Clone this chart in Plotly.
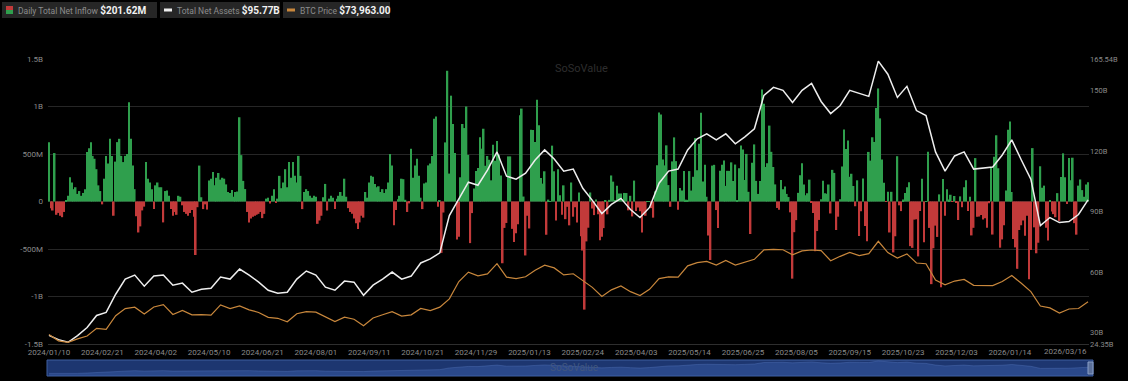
import pandas as pd
import plotly.graph_objects as go

# ---------------- data ----------------
start_date = "2024-01-10"
end_date = "2026-03-16"
market_holidays = ["2024-01-15", "2024-02-19", "2024-03-29", "2024-05-27", "2024-06-19",
                   "2024-07-04", "2024-09-02", "2024-11-28", "2024-12-25", "2025-01-01",
                   "2025-01-09", "2025-01-20", "2025-02-17", "2025-04-18", "2025-05-26",
                   "2025-06-19", "2025-07-04", "2025-09-01", "2025-11-27", "2025-12-25",
                   "2026-01-01", "2026-01-19", "2026-02-16"]
bday = pd.offsets.CustomBusinessDay(holidays=market_holidays)
dates = [d.strftime("%Y/%m/%d") for d in pd.date_range(start_date, end_date, freq=bday)]

# Daily total net inflow, million USD (one per trading day)
inflow_2024 = [
    625, -70, -95, 510, -140, -120, -150, -165, -110, 10,
    60, 255, 200, 130, 150, 80, 110, 60, 90, 130,
    520, 560, 625, 480, 450, 340, 170, 110, -30, 240,
    480, 400, 660, 480, -150, 420, 625, 660, 480, 415,
    480, 500, 1045, 660, 380, 130, -155, -326, -262, -94,
    -54, 415, 240, 200, 130, -80, 170, 200, 150, 150,
    -220, 110, 115, 60, -80, -150, -110, -140, 60, 50,
    -40, -110, -130, -150, -120, -90, -160, -563, -60, 378,
    45, -80, -30, -85, 220, 240, 310, 170, 250, 300,
    230, 250, 240, 180, 100, 90, 120, 50, 100, 105,
    887, 488, 217, 131, -110, -220, -180, -160, -150, -140,
    -130, -110, -175, -130, 30, 40, -20, 60, 130, -10,
    30, 270, 140, 200, 340, 150, 415, 250, 415, 270,
    200, 480, 270, -80, 100, 130, 110, 60, 40, 60,
    50, -235, -200, -150, 45, 185, -95, 30, 60, 40,
    -80, 30, 60, 100, 60, 240, 50, -70, -110, -130,
    -180, -230, -290, -220, -150, -170, 100, 40, 200, 270,
    260, 185, 150, 160, 100, 130, 90, 130, 200, 500,
    380, -250, -90, 25, 60, 240, 235, 18, -110, -20,
    555, 250, 380, 450, 270, 40, -80, 190, 200, 380,
    400, 480, 870, 894, -54, 10, -541, -116, 622, 1376,
    294, 1114, 817, 510, -400, -370, 255, 816, 773, 1000,
    490, -438, -122, 137, 320, 353, 676, 556, 766, 376,
    479, 439, 223, 598, 428, 637, 493, 275, -650, -278,
    -226, 475, 475, -288, -426, -333,
]
inflow_2025 = [
    -240, 908, 978, 52, -568, -150, -284, 755, 753, 626,
    1070, 802, 248, 188, 318, -350, 20, 2, 588, 318,
    -200, 340, 66, -140, 170, -186, -56, -251, 200, -160,
    -60, -220, 94, -365, -516, -1138, -420, -276, 95, -74,
    -143, 22, -134, -409, -371, -280, 13, -135, 17, 274,
    209, 11, 165, 84, 84, 27, 90, 89, -93, 60,
    -157, 220, -100, -64, -103, -326, -127, -150, 1, 1,
    -70, -170, 107, 381, 936, 917, 442, 380, 591, 173,
    -56, 422, 675, 425, -86, 142, 117, 321, 20, 17,
    320, 115, 260, 667, 329, 607, 934, 211, 386, 50,
    -358, -616, 378, 386, -90, -278, 323, 387, 431, 164,
    323, 322, 412, 216, 389, 6, 350, 589, 548, 226,
    501, 102, -342, 408, 601, 217, 80, 216, 1180, 1030,
    363, 403, 799, 523, 363, 180, -68, -86, 226, 130,
    157, 80, 47, -114, -812, -323, -196, 91, 277, 403,
    178, 65, 87, 230, -14, -121, -523, -311, -194, 23,
    219, 88, 81, 179, -126, 333, 301, -300, -160, 23,
    368, 757, 553, 642, 260, 292, 163, -50, 223, -363,
    -103, 241, -258, -418, 522, 430, 676, 627, 985, 1190,
    875, 441, 198, -4, 102, -326, 102, -536, -366, 477,
    -40, -101, 20, 90, 149, 202, -470, -488, -191, -187,
    -578, -100, 240, -430, 1, 524, -278, -870, -492, -254,
    -373, 75, -903, 238, -151, 129, 21, 71, -3, 58,
    -14, -195, 54, -60, 151, 223, -100, 49, -357, -277,
    457, -161, -158, -142, -189, -175, -276, -19, 355, -348,
]
inflow_2026 = [
    471, 697, 350, -486, -399, -250, 117, 754, 843, 100,
    -395, -483, -709, -300, -250, -200, -360, -150, -818, -510,
    562, -272, -545, -434, 371, 145, 167, -277, -410, 15,
    -105, -133, -166, 88, -204, 258, 507, 255, -27, 458,
    225, 461, -228, -349, 167, 232, 120, 50, 180, 201.62,
]
net_inflow = inflow_2024 + inflow_2025 + inflow_2026

# Line series sampled every 5th trading day
line_idx = list(range(0, len(dates), 5))
# Total net assets, billion USD
total_assets = [
    28.6, 26.5, 25.2, 28.5, 32.5, 38.5, 40.0, 49.0, 56.5, 58.5,
    53.0, 58.0, 58.5, 53.5, 54.5, 50.0, 51.5, 52.0, 57.5, 56.5,
    61.5, 58.5, 55.0, 51.0, 49.5, 50.0, 56.5, 60.5, 58.5, 52.5,
    51.0, 55.5, 55.0, 48.5, 53.5, 56.5, 60.0, 56.5, 58.0, 64.5,
    66.5, 69.5, 88.0, 96.5, 104.5, 103.0, 110.5, 119.5, 107.5, 106.0,
    109.0, 115.5, 120.5, 116.0, 110.0, 111.0, 101.5, 95.5, 89.0, 93.5,
    96.5, 91.0, 87.0, 92.0, 104.0, 110.0, 111.0, 120.5, 126.0, 128.5,
    125.5, 128.5, 123.5, 127.0, 131.0, 147.5, 151.5, 150.0, 144.0, 150.0,
    153.5, 144.5, 138.5, 142.5, 150.0, 148.5, 147.0, 164.5, 158.0, 146.5,
    152.0, 140.0, 137.5, 119.5, 110.0, 117.5, 119.5, 111.0, 111.5, 112.0,
    118.0, 125.5, 115.5, 106.0, 83.0, 87.0, 84.5, 85.0, 88.5, 95.77,
]
# BTC price, thousand USD
btc_price = [
    46.6, 41.3, 40.0, 43.0, 45.3, 51.8, 51.0, 62.4, 68.3, 69.5,
    63.8, 69.7, 71.6, 63.4, 66.8, 63.1, 63.2, 62.9, 71.4, 68.4,
    70.6, 67.3, 65.1, 61.0, 60.2, 57.3, 64.0, 65.8, 65.3, 61.7,
    57.5, 61.2, 59.4, 54.0, 60.5, 63.2, 65.8, 62.1, 63.1, 68.4,
    66.6, 69.5, 76.5, 91.0, 98.9, 95.8, 97.4, 106.0, 94.7, 93.4,
    95.0, 100.5, 104.7, 102.4, 96.5, 97.5, 91.5, 86.1, 78.5, 84.0,
    87.3, 82.5, 79.2, 84.5, 93.4, 94.9, 94.7, 104.1, 106.8, 107.8,
    104.7, 108.6, 104.8, 107.2, 109.6, 117.5, 117.9, 117.6, 113.3, 116.6,
    117.4, 116.9, 108.4, 112.1, 115.3, 112.7, 114.3, 124.7, 115.2, 110.6,
    114.1, 106.5, 105.9, 92.2, 88.3, 91.4, 92.7, 87.8, 87.5, 87.6,
    91.0, 96.0, 89.5, 82.5, 70.5, 68.9, 64.5, 68.0, 68.4, 73.963,
]

left_ticks = [-1500, -1000, -500, 0, 500, 1000, 1500]
left_tick_text = ["-1.5B", "-1B", "-500M", "0", "500M", "1B", "1.5B"]
right_ticks = [24.35, 30, 60, 90, 120, 150, 165.54]
right_tick_text = ["24.35B", "30B", "60B", "90B", "120B", "150B", "165.54B"]
label_idx = list(range(0, 505, 28)) + [len(dates) - 1]

# ---------------- figure ----------------
W, H = 1128, 381
ML, MR, MT, MB = 48, 39, 59, 5
PW = W - ML - MR
PH = H - MT - MB


def px(x):
    return (x - ML) / PW


def py(y):
    return (H - MB - y) / PH


GREEN = "#2f9f4d"
RED = "#c23a3a"
WHITE = "#eeeeee"
ORANGE = "#c8873c"
TICKC = "#8a8a8a"
FONT = "Roboto, Inter, Noto Sans, sans-serif"

n = len(net_inflow)
bar_x = dates[:n]
bar_colors = [GREEN if v >= 0 else RED for v in net_inflow]
line_x = [dates[i] for i in line_idx]

fig = go.Figure()
fig.add_trace(go.Bar(x=bar_x, y=net_inflow, marker=dict(color=bar_colors, line=dict(width=0)),
                     name="Daily Total Net Inflow", yaxis="y", xaxis="x"))
fig.add_trace(go.Scatter(x=line_x, y=btc_price, mode="lines", line=dict(color=ORANGE, width=1.2),
                         name="BTC Price", yaxis="y3", xaxis="x"))
fig.add_trace(go.Scatter(x=line_x, y=total_assets, mode="lines", line=dict(color=WHITE, width=1.5),
                         name="Total Net Assets", yaxis="y2", xaxis="x"))
# slider data shadow
fig.add_trace(go.Scatter(x=line_x, y=total_assets, mode="lines", fill="tozeroy",
                         line=dict(color="rgba(95,130,200,0.55)", width=0.6),
                         fillcolor="rgba(60,95,170,0.45)", xaxis="x2", yaxis="y4",
                         hoverinfo="skip"))

main_dom = [py(344), 1]
slider_dom = [py(376), py(360)]

shapes = [
    dict(type="rect", xref="paper", yref="paper", x0=px(47), x1=px(1093), y0=py(376), y1=py(360),
         fillcolor="#1d3670", line=dict(color="#3f5f9f", width=1), layer="below"),
    dict(type="rect", xref="paper", yref="paper", x0=px(1088), x1=px(1093), y0=py(374), y1=py(362),
         fillcolor="#5a6f99", line=dict(color="#8aa0c8", width=1)),
    # legend boxes
    dict(type="rect", xref="paper", yref="paper", x0=px(2), x1=px(157), y0=py(18), y1=py(2),
         fillcolor="#262626", line=dict(width=0)),
    dict(type="rect", xref="paper", yref="paper", x0=px(160), x1=px(280), y0=py(18), y1=py(2),
         fillcolor="#262626", line=dict(width=0)),
    dict(type="rect", xref="paper", yref="paper", x0=px(283), x1=px(390), y0=py(18), y1=py(2),
         fillcolor="#262626", line=dict(width=0)),
    # legend icons
    dict(type="rect", xref="paper", yref="paper", x0=px(6), x1=px(13), y0=py(10), y1=py(6),
         fillcolor=RED, line=dict(width=0)),
    dict(type="rect", xref="paper", yref="paper", x0=px(6), x1=px(13), y0=py(14), y1=py(10),
         fillcolor=GREEN, line=dict(width=0)),
    dict(type="rect", xref="paper", yref="paper", x0=px(164), x1=px(172), y0=py(11.5), y1=py(8.5),
         fillcolor=WHITE, line=dict(width=0)),
    dict(type="rect", xref="paper", yref="paper", x0=px(287), x1=px(295), y0=py(11.5), y1=py(8.5),
         fillcolor=ORANGE, line=dict(width=0)),
]


def leg_text(label, value):
    return ("<span style='color:#8c8c8c;font-size:8.5px'>" + label + "</span> "
            "<span style='color:#f2f2f2;font-size:10px'><b>" + value + "</b></span>")


tick_text_x = [dates[i] for i in label_idx[:-1]] + [""]

annotations = [
    dict(xref="paper", yref="paper", x=px(16), y=py(10), xanchor="left", yanchor="middle",
         text=leg_text("Daily Total Net Inflow", "$201.62M"), showarrow=False,
         font=dict(family=FONT, size=9)),
    dict(xref="paper", yref="paper", x=px(175), y=py(10), xanchor="left", yanchor="middle",
         text=leg_text("Total Net Assets", "$95.77B"), showarrow=False,
         font=dict(family=FONT, size=9)),
    dict(xref="paper", yref="paper", x=px(298), y=py(10), xanchor="left", yanchor="middle",
         text=leg_text("BTC Price", "$73,963.00"), showarrow=False,
         font=dict(family=FONT, size=9)),
    dict(xref="paper", yref="paper", x=px(553), y=py(68), xanchor="left", yanchor="middle",
         text="SoSoValue", showarrow=False, font=dict(family=FONT, size=11, color="#2e2e2e")),
    dict(xref="paper", yref="paper", x=px(548), y=py(367), xanchor="left", yanchor="middle",
         text="SoSoValue", showarrow=False, font=dict(family=FONT, size=10, color="#41567f")),
    # last x tick label, kept inside the chart like the original
    dict(xref="paper", yref="paper", x=px(1089), y=py(351), xanchor="right", yanchor="middle",
         text=dates[label_idx[-1]], showarrow=False, font=dict(family=FONT, size=8, color=TICKC)),
]

fig.update_layout(
    width=W, height=H,
    margin=dict(l=ML, r=MR, t=MT, b=MB, autoexpand=False),
    paper_bgcolor="#000000", plot_bgcolor="#000000",
    showlegend=False, bargap=0.15,
    font=dict(family=FONT, size=8, color=TICKC),
    xaxis=dict(type="category", categoryorder="array", categoryarray=dates,
               range=[-0.5, len(dates) - 0.5], anchor="y", domain=[0, 1], automargin=False,
               tickmode="array", tickvals=[dates[i] for i in label_idx],
               ticktext=tick_text_x, tickangle=0,
               showgrid=False, showline=True, linecolor="#2e2e2e", linewidth=1,
               ticks="", tickfont=dict(size=8, color=TICKC), zeroline=False),
    yaxis=dict(domain=main_dom, range=[-1500, 1500], tickmode="array", tickvals=left_ticks,
               ticktext=left_tick_text, showgrid=True, gridcolor="#262626", gridwidth=1,
               zeroline=False, tickfont=dict(size=8, color=TICKC), ticks="", automargin=False,
               ticklabelstandoff=4),
    yaxis2=dict(overlaying="y", side="right", range=[24.35, 165.54], tickmode="array",
                tickvals=right_ticks, ticktext=right_tick_text, showgrid=False, zeroline=False,
                tickfont=dict(size=7.5, color=TICKC), ticks="", automargin=False),
    yaxis3=dict(overlaying="y", range=[38.66, 277.4], visible=False, automargin=False),
    xaxis2=dict(type="category", categoryorder="array", categoryarray=dates,
                range=[-0.5, len(dates) - 0.5], anchor="y4", domain=[0, 1], visible=False,
                automargin=False),
    yaxis4=dict(domain=slider_dom, range=[0, 175], visible=False, automargin=False),
    shapes=shapes,
    annotations=annotations,
)

fig.write_html("out.html", config={"displayModeBar": False},
               post_script="document.body.style.margin='0';document.body.style.background='#000';"
                           "document.body.style.overflow='hidden';")
